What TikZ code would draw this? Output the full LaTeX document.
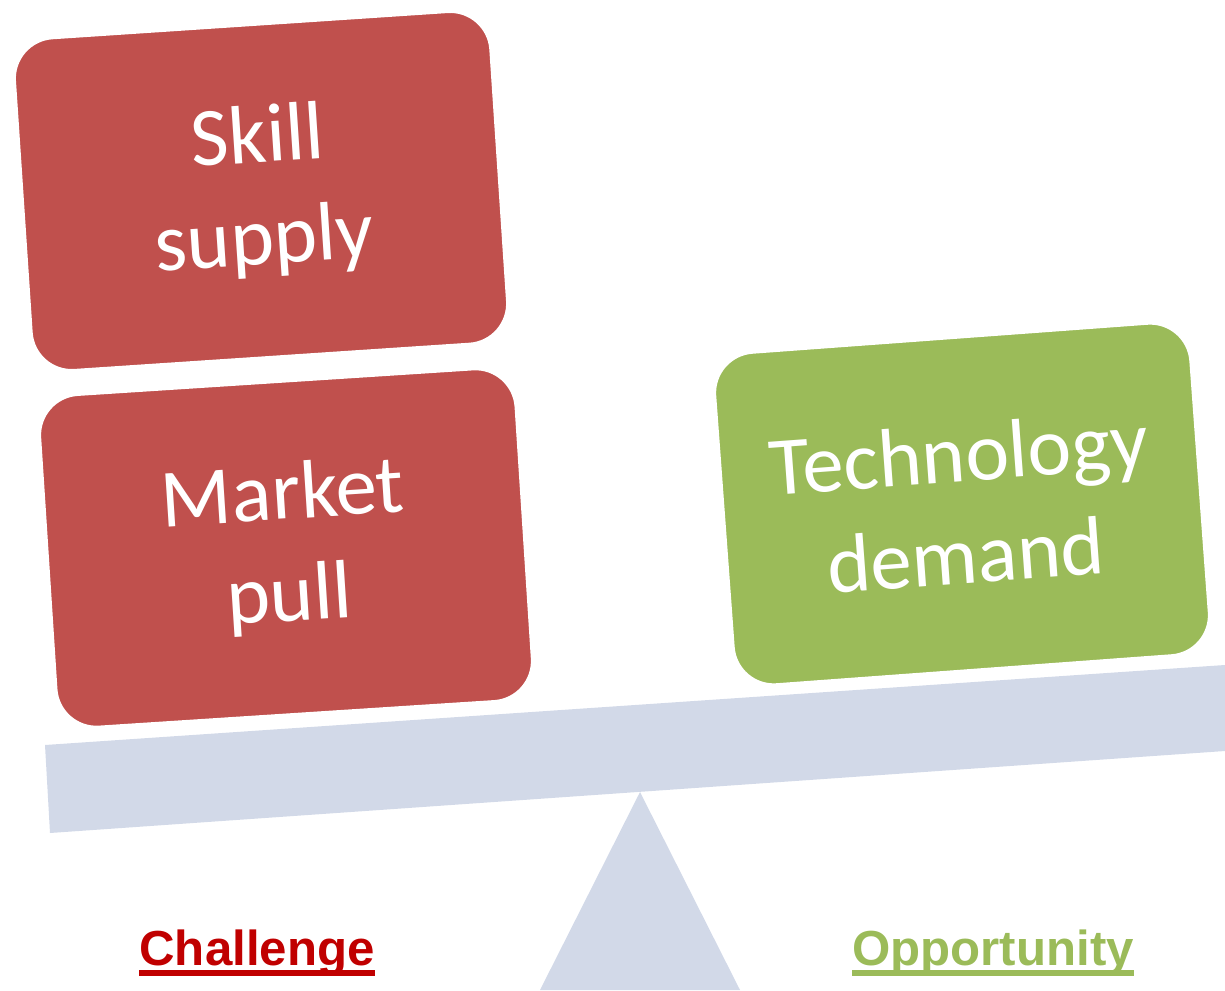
\documentclass[tikz,border=0pt]{standalone}
\usepackage{fontspec}
\setmainfont{Carlito}
\newfontfamily\lblfont{Liberation Sans}
\usepackage{tikz}
\usetikzlibrary{positioning}
\definecolor{blred}{HTML}{C0504D}
\definecolor{blgreen}{HTML}{9BBB59}
\definecolor{blbeam}{HTML}{D2D9E8}
\definecolor{blchal}{HTML}{C00000}
\tikzset{
  weight/.style={rectangle,rounded corners=0.42cm,draw=white,line width=1.6pt,
                 minimum width=4.8cm,minimum height=3.36cm,inner sep=2pt,
                 text=white,align=center,font=\fontsize{23.6}{29}\selectfont},
  side/.style={font=\lblfont\bfseries\fontsize{14}{16}\selectfont,anchor=base},
}
% thick underline for the two side labels
\newcommand{\sideul}[1]{\setbox0\hbox{#1}\rlap{\usebox0}\rule[-3pt]{\wd0}{1.5pt}}

\begin{document}
\begin{tikzpicture}[x=1cm,y=1cm]
  \useasboundingbox (0,0) rectangle (12.25,9.9);

  % ---- seesaw ----
  \fill[blbeam] (6.40,1.98) -- (5.40,0) -- (7.40,0) -- cycle;
  \fill[blbeam] (0.45,2.45) -- (12.25,3.25) -- (12.25,2.39) -- (0.50,1.57) -- cycle;

  % ---- weights ----
  \node[weight,fill=blred,rotate=3.8] (skill) at (2.61,7.99) {Skill\\supply};
  \node[weight,fill=blred,rotate=3.7] (market) at (2.86,4.42) {Market\\pull};
  \node[weight,fill=blgreen,rotate=4.2] (tech) at (9.62,4.86) {Technology\\demand};

  % ---- sides ----
  \node[side,text=blchal] (chal) at (2.57,0.25) {\sideul{Challenge}};
  \node[side,text=blgreen] (opp) at (9.93,0.25) {\sideul{Opportunity}};
\end{tikzpicture}
\end{document}
